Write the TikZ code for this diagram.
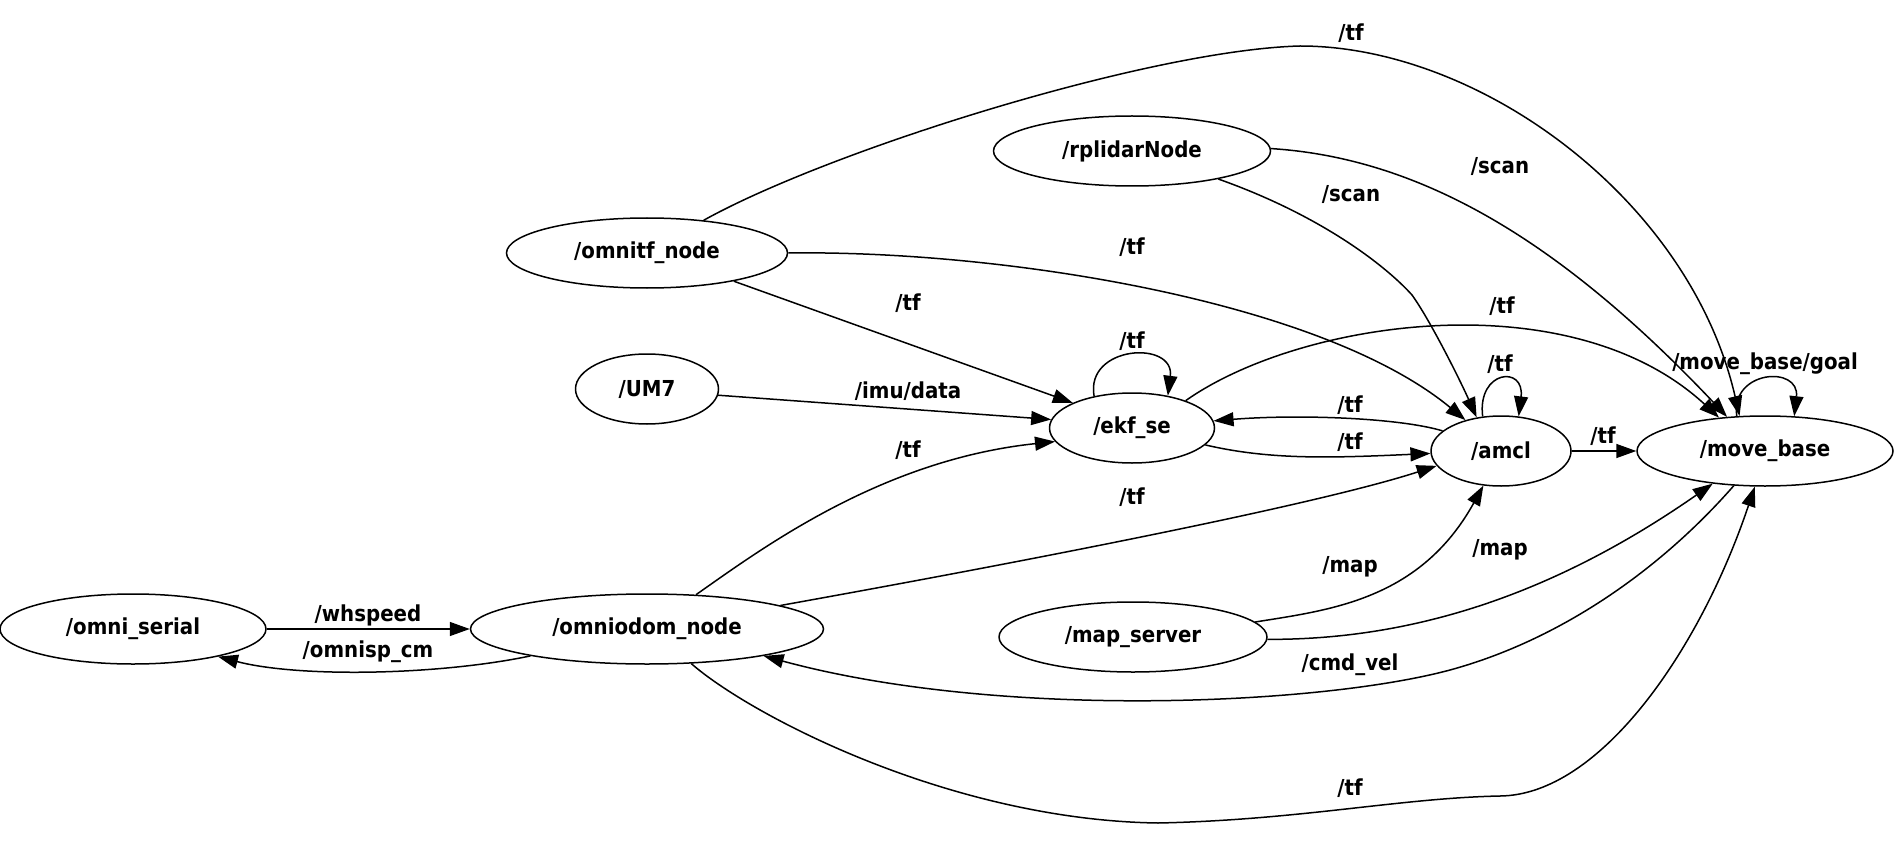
\documentclass[tikz,border=0pt]{standalone}
\usepackage{fontspec}
\setmainfont{DejaVu Sans Condensed}
\usetikzlibrary{shapes.geometric,arrows.meta}

\begin{document}
\begin{tikzpicture}[x=0.5pt,y=-0.5pt,
    rosnode/.style={draw,ellipse,line width=0.75pt,inner sep=0pt,minimum height=35pt,
        font=\fontsize{11pt}{13pt}\bfseries\selectfont},
    topic/.style={inner sep=0pt,font=\fontsize{11pt}{13pt}\bfseries\selectfont},
    edge/.style={line width=0.75pt,-{Triangle[length=10pt,width=7pt]}}]
    \useasboundingbox (0,0) rectangle (1894,845);

    % Nodes
    \node[rosnode,minimum width=133pt] (omniserial) at (133,629) {/omni\_serial};
    \node[rosnode,minimum width=176.5pt] (omniodom) at (647,629) {/omniodom\_node};
    \node[rosnode,minimum width=140.5pt] (omnitf) at (647,253) {/omnitf\_node};
    \node[rosnode,minimum width=71.5pt] (um7) at (647,389) {/UM7};
    \node[rosnode,minimum width=138.5pt] (rplidar) at (1132,151) {/rplidarNode};
    \node[rosnode,minimum width=82.5pt] (ekf) at (1132,428) {/ekf\_se};
    \node[rosnode,minimum width=134pt] (mapserver) at (1133,637) {/map\_server};
    \node[rosnode,minimum width=70pt] (amcl) at (1501,451) {/amcl};
    \node[rosnode,minimum width=128pt] (movebase) at (1765,451) {/move\_base};

    % omni_serial <-> omniodom_node
    \draw[edge] (omniserial.east) -- (omniodom.west);
    \draw[edge] (omniodom.193) .. controls (440,675) and (300,678) .. (omniserial.342);
    \node[topic] (whspeed) at (368,615) {/whspeed};
    \node[topic] (omnispcm) at (368,652) {/omnisp\_cm};

    % omnitf_node
    \draw[edge] (omnitf.30) .. controls (830,150) and (1150,50) .. (1300,46)
        .. controls (1480,46) and (1690,200) .. (movebase.126);
    \draw[edge] (omnitf.east) .. controls (1000,250) and (1320,300) .. (amcl.139);
    \draw[edge] (omnitf.342) -- (ekf.157);
    \node[topic] (tftop) at (1351,33) {/tf};
    \node[topic] (tfomnitfamcl) at (1132,247) {/tf};
    \node[topic] (tfomnitfekf) at (908,303) {/tf};

    % UM7
    \draw[edge] (um7.355) -- (ekf.174);
    \node[topic] (imudata) at (908,391) {/imu/data};

    % rplidarNode
    \draw[edge] (rplidar.1) .. controls (1420,158) and (1560,240) .. (movebase.138);
    \draw[edge] (rplidar.342) .. controls (1320,215) and (1385,265) .. (1412,295)
        .. controls (1430,320) and (1460,380) .. (amcl.126);
    \node[topic] (scanmove) at (1500,167) {/scan};
    \node[topic] (scanamcl) at (1351,195) {/scan};

    % ekf_se
    \draw[edge] (ekf.140) .. controls (1085,345) and (1175,340) .. (ekf.42);
    \draw[edge] (ekf.27) .. controls (1300,320) and (1570,280) .. (movebase.144);
    \draw[edge] (ekf.347) .. controls (1270,460) and (1330,458) .. (amcl.182);
    \node[topic] (tfekfloop) at (1132,341) {/tf};
    \node[topic] (tfekfmove) at (1502,306) {/tf};
    \node[topic] (tfekfamcl) at (1350,442) {/tf};

    % amcl
    \draw[edge] (amcl.161) .. controls (1400,418) and (1300,414) .. (ekf.5);
    \draw[edge] (amcl.118) .. controls (1477,370) and (1525,365) .. (amcl.63);
    \draw[edge] (amcl.east) -- (movebase.west);
    \node[topic] (tfamclekf) at (1350,405) {/tf};
    \node[topic] (tfamclloop) at (1500,364) {/tf};
    \node[topic] (tfamclmove) at (1603,436) {/tf};

    % omniodom_node
    \draw[edge] (omniodom.35) .. controls (760,550) and (880,460) .. (ekf.190);
    \draw[edge] (omniodom.10) .. controls (950,575) and (1300,510) .. (amcl.193);
    \draw[edge] (omniodom.322) .. controls (750,715) and (950,820) .. (1158,823)
        .. controls (1300,820) and (1400,798) .. (1500,796)
        .. controls (1600,795) and (1700,650) .. (movebase.254);
    \node[topic] (tfodomekf) at (908,450) {/tf};
    \node[topic] (tfodomamcl) at (1132,497) {/tf};
    \node[topic] (tfbottom) at (1350,788) {/tf};

    % map_server
    \draw[edge] (mapserver.7) .. controls (1330,610) and (1420,600) .. (amcl.243);
    \draw[edge] (mapserver.359) .. controls (1420,640) and (1560,590) .. (movebase.212);
    \node[topic] (mapamcl) at (1350,567) {/map};
    \node[topic] (mapmove) at (1500,550) {/map};

    % move_base
    \draw[edge] (movebase.129) .. controls (1730,370) and (1800,365) .. (movebase.50);
    \draw[edge] (movebase.228) .. controls (1660,570) and (1560,640) .. (1450,670)
        .. controls (1320,705) and (1000,720) .. (omniodom.347);
    \node[topic] (goal) at (1765,364) {/move\_base/goal};
    \node[topic] (cmdvel) at (1350,665) {/cmd\_vel};
\end{tikzpicture}
\end{document}
